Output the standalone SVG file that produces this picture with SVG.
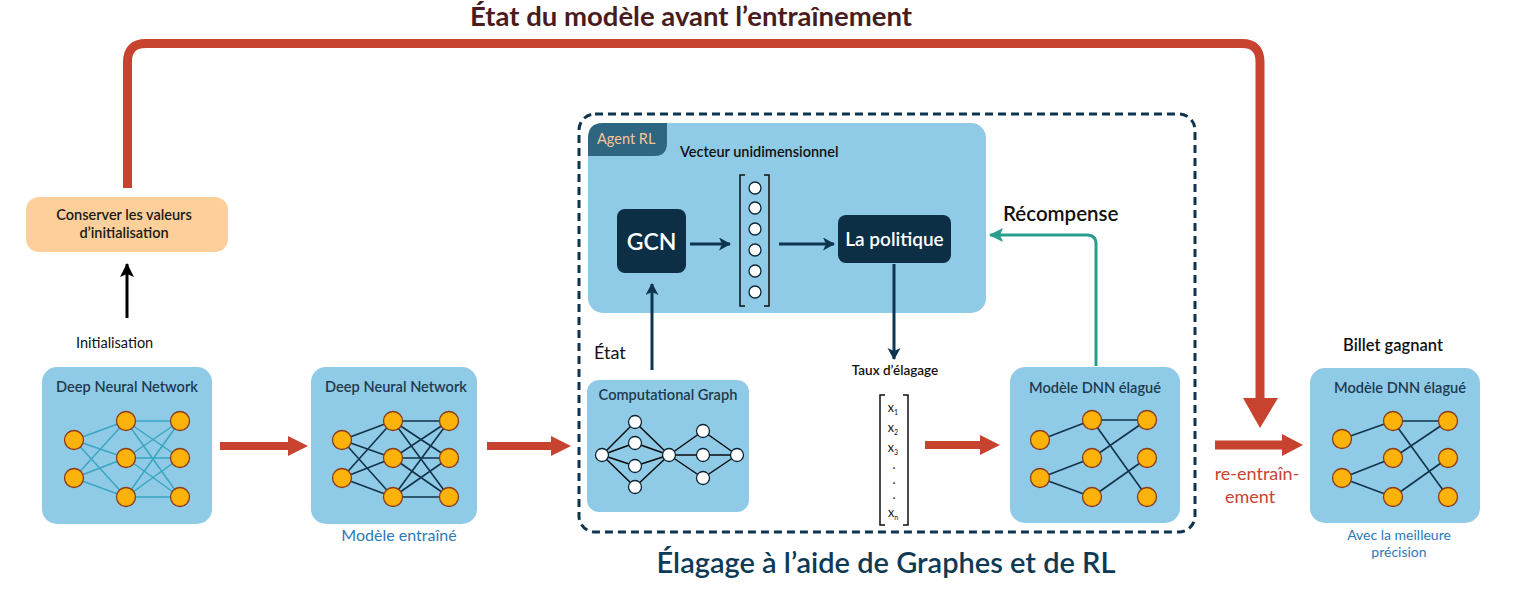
<svg xmlns="http://www.w3.org/2000/svg" width="1518" height="590" viewBox="0 0 1518 590">
<style>
text{font-family:Lato,"Open Sans","Liberation Sans",sans-serif}
.box{fill:#8fcae6}
.ttl{font-size:14.6px;fill:#1d3a4f;font-weight:600;text-anchor:middle}
.nd{fill:#fbb20a;stroke:#8a3b1c;stroke-width:1.3}
.wn{fill:#fff;stroke:#0d2535;stroke-width:1.3}
.ed1{stroke:#3aa7c1;stroke-width:1.5;fill:none}
.ed2{stroke:#12334a;stroke-width:1.6;fill:none}
.edk{stroke:#0b0b0b;stroke-width:1.5;fill:none}
.red{stroke:#c8432f;fill:none}
.navy{stroke:#0e3550;stroke-width:3;fill:none}
.dark{fill:#0d2f45}
.blue{fill:#2c7ab6;text-anchor:middle}
</style>
<defs>
<marker id="hN" markerWidth="14" markerHeight="14" refX="11" refY="6.5" orient="auto" markerUnits="userSpaceOnUse"><path d="M0,0 L12,6.5 L0,13 L3,6.5 Z" fill="#0e3550"/></marker>
<marker id="hK" markerWidth="16" markerHeight="16" refX="13" refY="7" orient="auto" markerUnits="userSpaceOnUse"><path d="M0,0 L14,7 L0,14 L3,7 Z" fill="#000"/></marker>
<marker id="hT" markerWidth="16" markerHeight="16" refX="13" refY="7" orient="auto" markerUnits="userSpaceOnUse"><path d="M0,0 L14,7 L0,14 L3,7 Z" fill="#2a9d8f"/></marker>
</defs>

<!-- titles -->
<text x="691" y="26" font-size="27.5" font-weight="700" fill="#4a1c1e" text-anchor="middle">État du modèle avant l’entraînement</text>
<text x="886" y="573" font-size="29" font-weight="600" fill="#0f3a55" text-anchor="middle">Élagage à l’aide de Graphes et de RL</text>

<!-- dashed region -->
<g id="region">
  <rect x="579" y="114" width="616" height="418" rx="16" fill="none" stroke="#0e3550" stroke-width="3" stroke-dasharray="8 5"/>
</g>

<!-- Conserver -->
<g id="conserver">
  <rect x="26" y="197" width="202" height="55" rx="13" fill="#fdd09b"/>
  <text x="124" y="220" font-size="14.5" font-weight="600" fill="#1a1a1a" text-anchor="middle">Conserver les valeurs</text>
  <text x="124" y="238" font-size="14.5" font-weight="600" fill="#1a1a1a" text-anchor="middle">d’initialisation</text>
</g>
<text x="76" y="348" font-size="14.5" fill="#111">Initialisation</text>

<!-- DNN 1 -->
<g id="dnn1">
  <rect class="box" x="42" y="367" width="170" height="157" rx="15"/>
  <text class="ttl" x="127" y="392">Deep Neural Network</text>
  <g class="ed1">
    <path d="M74,440 L126,421 M74,440 L126,458 M74,440 L126,497 M74,478 L126,421 M74,478 L126,458 M74,478 L126,497"/>
    <path d="M126,421 L180,421 M126,421 L180,458 M126,421 L180,497 M126,458 L180,421 M126,458 L180,458 M126,458 L180,497 M126,497 L180,421 M126,497 L180,458 M126,497 L180,497"/>
  </g>
  <circle class="nd" cx="74" cy="440" r="9.5"/><circle class="nd" cx="74" cy="478" r="9.5"/>
  <circle class="nd" cx="126" cy="421" r="9.5"/><circle class="nd" cx="126" cy="458" r="9.5"/><circle class="nd" cx="126" cy="497" r="9.5"/>
  <circle class="nd" cx="180" cy="421" r="9.5"/><circle class="nd" cx="180" cy="458" r="9.5"/><circle class="nd" cx="180" cy="497" r="9.5"/>
</g>

<!-- DNN 2 -->
<g id="dnn2">
  <rect class="box" x="311" y="367" width="166" height="157" rx="15"/>
  <text class="ttl" x="396" y="392">Deep Neural Network</text>
  <g class="ed2">
    <path d="M342,440 L393,421 M342,440 L393,458 M342,440 L393,497 M342,478 L393,421 M342,478 L393,458 M342,478 L393,497"/>
    <path d="M393,421 L449,421 M393,421 L449,458 M393,421 L449,497 M393,458 L449,421 M393,458 L449,458 M393,458 L449,497 M393,497 L449,421 M393,497 L449,458 M393,497 L449,497"/>
  </g>
  <circle class="nd" cx="342" cy="440" r="9.5"/><circle class="nd" cx="342" cy="478" r="9.5"/>
  <circle class="nd" cx="393" cy="421" r="9.5"/><circle class="nd" cx="393" cy="458" r="9.5"/><circle class="nd" cx="393" cy="497" r="9.5"/>
  <circle class="nd" cx="449" cy="421" r="9.5"/><circle class="nd" cx="449" cy="458" r="9.5"/><circle class="nd" cx="449" cy="497" r="9.5"/>
  <text class="blue" x="399" y="541" font-size="16">Modèle entraîné</text>
</g>

<!-- Agent RL -->
<g id="agent">
  <rect class="box" x="588" y="123" width="398" height="190" rx="15"/>
  <path d="M588,156 V138 Q588,123 603,123 H667 V143 Q667,156 654,156 Z" fill="#2e6580"/>
  <text x="597" y="144" font-size="14.5" fill="#f3c79b">Agent RL</text>
  <text x="680" y="157" font-size="14.5" font-weight="600" fill="#111">Vecteur unidimensionnel</text>
</g>
<g id="gcn">
  <rect class="dark" x="617" y="209" width="69" height="64" rx="8"/>
  <text x="651.5" y="250" font-size="23" font-weight="600" fill="#fff" text-anchor="middle">GCN</text>
</g>
<g id="vecteur">
  <path d="M745,175 H740 V306 H745 M764,175 H769 V306 H764" stroke="#111" stroke-width="1.5" fill="none"/>
  <circle class="wn" cx="755" cy="188" r="6"/><circle class="wn" cx="755" cy="208" r="6"/><circle class="wn" cx="755" cy="229" r="6"/>
  <circle class="wn" cx="755" cy="250" r="6"/><circle class="wn" cx="755" cy="271" r="6"/><circle class="wn" cx="755" cy="292" r="6"/>
</g>
<g id="politique">
  <rect class="dark" x="838" y="215" width="113" height="48" rx="8"/>
  <text x="894.5" y="246" font-size="19" font-weight="600" fill="#fff" text-anchor="middle">La politique</text>
</g>
<text x="594" y="359" font-size="18" fill="#111">État</text>
<text x="1003" y="221" font-size="20.5" font-weight="600" fill="#111">Récompense</text>

<!-- Computational graph -->
<g id="compgraph">
  <rect class="box" x="587" y="380" width="162" height="132" rx="12"/>
  <text class="ttl" x="668" y="400">Computational Graph</text>
  <g class="edk">
    <path d="M602,455 L635,422 M602,455 L635,443 M602,455 L635,466 M602,455 L635,487"/>
    <path d="M635,422 L669,455 M635,443 L669,455 M635,466 L669,455 M635,487 L669,455"/>
    <path d="M669,455 L703,431 M669,455 L737,455 M669,455 L703,478 M703,431 L737,455 M703,478 L737,455"/>
  </g>
  <circle class="wn" cx="602" cy="455" r="6.5"/>
  <circle class="wn" cx="635" cy="422" r="6.5"/><circle class="wn" cx="635" cy="443" r="6.5"/><circle class="wn" cx="635" cy="466" r="6.5"/><circle class="wn" cx="635" cy="487" r="6.5"/>
  <circle class="wn" cx="669" cy="455" r="6.5"/>
  <circle class="wn" cx="703" cy="431" r="6.5"/><circle class="wn" cx="703" cy="455" r="6.5"/><circle class="wn" cx="703" cy="478" r="6.5"/>
  <circle class="wn" cx="737" cy="455" r="6.5"/>
</g>

<!-- Taux -->
<g id="taux">
  <text x="895" y="375" font-size="13.5" font-weight="600" fill="#111" text-anchor="middle">Taux d’élagage</text>
  <path d="M885,395 H880 V525 H885 M903,395 H908 V525 H903" stroke="#111" stroke-width="1.5" fill="none"/>
  <g font-size="12.5" fill="#111" text-anchor="middle">
    <text x="893" y="412">x<tspan font-size="7" dy="3">1</tspan></text>
    <text x="893" y="432">x<tspan font-size="7" dy="3">2</tspan></text>
    <text x="893" y="452">x<tspan font-size="7" dy="3">3</tspan></text>
    <text x="894" y="469">.</text>
    <text x="894" y="484">.</text>
    <text x="894" y="499">.</text>
    <text x="893" y="517">x<tspan font-size="7" dy="3">n</tspan></text>
  </g>
</g>

<!-- Pruned DNN inside -->
<g id="pruned1">
  <rect class="box" x="1010" y="367" width="170" height="156" rx="15"/>
  <text class="ttl" x="1095" y="393">Modèle DNN élagué</text>
  <path class="ed2" d="M1040,440 L1092,420 M1040,478 L1092,458 M1040,478 L1092,497 M1092,420 L1147,420 M1092,420 L1147,497 M1092,458 L1147,420 M1092,497 L1147,458"/>
  <circle class="nd" cx="1040" cy="440" r="9.5"/><circle class="nd" cx="1040" cy="478" r="9.5"/>
  <circle class="nd" cx="1092" cy="420" r="9.5"/><circle class="nd" cx="1092" cy="458" r="9.5"/><circle class="nd" cx="1092" cy="497" r="9.5"/>
  <circle class="nd" cx="1147" cy="420" r="9.5"/><circle class="nd" cx="1147" cy="458" r="9.5"/><circle class="nd" cx="1147" cy="497" r="9.5"/>
</g>

<text x="1257" y="480" font-size="18" fill="#c8432f" text-anchor="middle">re-entraîn-</text>
<text x="1250" y="503" font-size="18" fill="#c8432f" text-anchor="middle">ement</text>

<!-- Final -->
<g id="final">
  <text x="1393" y="351" font-size="16.5" font-weight="600" fill="#111" text-anchor="middle">Billet gagnant</text>
  <rect class="box" x="1310" y="368" width="170" height="155" rx="15"/>
  <text class="ttl" x="1400" y="393">Modèle DNN élagué</text>
  <path class="ed2" d="M1342,439 L1393,421 M1342,478 L1393,458 M1342,478 L1393,497 M1393,421 L1448,421 M1393,421 L1448,497 M1393,458 L1448,421 M1393,497 L1448,458"/>
  <circle class="nd" cx="1342" cy="439" r="9.5"/><circle class="nd" cx="1342" cy="478" r="9.5"/>
  <circle class="nd" cx="1393" cy="421" r="9.5"/><circle class="nd" cx="1393" cy="458" r="9.5"/><circle class="nd" cx="1393" cy="497" r="9.5"/>
  <circle class="nd" cx="1448" cy="421" r="9.5"/><circle class="nd" cx="1448" cy="458" r="9.5"/><circle class="nd" cx="1448" cy="497" r="9.5"/>
  <text class="blue" x="1399" y="540" font-size="14">Avec la meilleure</text>
  <text class="blue" x="1399" y="557" font-size="14">précision</text>
</g>

<!-- connectors -->
<g id="connectors">
  <path class="red" stroke-width="9" d="M127.5,188 V62 Q127.5,43.5 146,43.5 H1242 Q1260,43.5 1260,62 V400"/>
  <path d="M1243,398 L1278,398 L1260,428 Z" fill="#c8432f"/>
  <line x1="127" y1="318" x2="127" y2="264" stroke="#000" stroke-width="3" marker-end="url(#hK)"/>
  <line class="red" stroke-width="8" x1="220" y1="446" x2="290" y2="446"/>
  <path d="M288,436 L308,446 L288,456 Z" fill="#c8432f"/>
  <line class="red" stroke-width="8" x1="487" y1="446" x2="553" y2="446"/>
  <path d="M551,436 L571,446 L551,456 Z" fill="#c8432f"/>
  <line class="red" stroke-width="8" x1="925" y1="445" x2="982" y2="445"/>
  <path d="M980,435 L1000,445 L980,455 Z" fill="#c8432f"/>
  <line class="red" stroke-width="9" x1="1215" y1="445" x2="1284" y2="445"/>
  <path d="M1282,434 L1303,445 L1282,456 Z" fill="#c8432f"/>
  <line class="navy" x1="652" y1="370" x2="652" y2="284" marker-end="url(#hN)"/>
  <line class="navy" x1="690" y1="244" x2="730" y2="244" marker-end="url(#hN)"/>
  <line class="navy" x1="779" y1="244" x2="834" y2="244" marker-end="url(#hN)"/>
  <line class="navy" x1="894" y1="264" x2="894" y2="359" marker-end="url(#hN)"/>
  <path d="M1096,366 V244 Q1096,235 1087,235 H990" stroke="#2a9d8f" stroke-width="3" fill="none" marker-end="url(#hT)"/>
</g>
</svg>
